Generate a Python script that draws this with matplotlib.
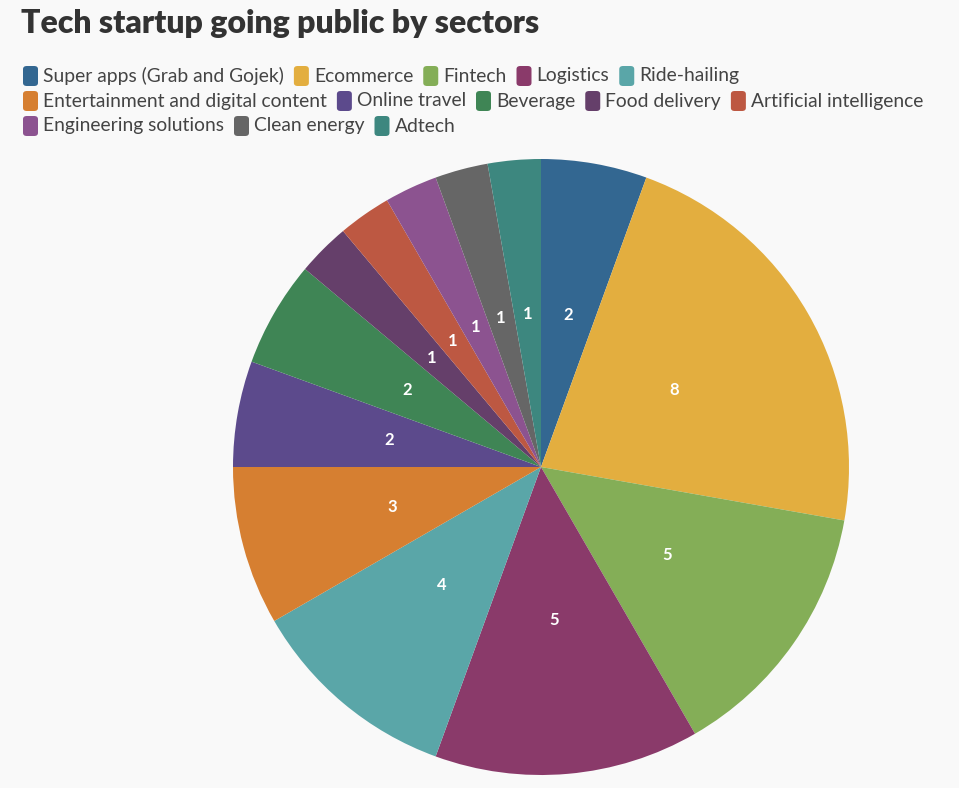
import matplotlib
matplotlib.use("Agg")
import numpy as np
import matplotlib.pyplot as plt
from matplotlib.patches import FancyBboxPatch

sectors = ["Super apps (Grab and Gojek)", "Ecommerce", "Fintech", "Logistics", "Ride-hailing",
           "Entertainment and digital content", "Online travel", "Beverage", "Food delivery",
           "Artificial intelligence", "Engineering solutions", "Clean energy", "Adtech"]
counts = [2, 8, 5, 5, 4, 3, 2, 2, 1, 1, 1, 1, 1]
colors = ["#336791", "#e3ae3f", "#84ae57", "#8a3a6a", "#5aa6a8", "#d67f31", "#5c4a8c",
          "#3f8555", "#653f6a", "#bd5842", "#8c5390", "#666666", "#3d877f"]
legend_rows = [5, 5, 3]

bg = "#f9f9f9"
W, H = 959, 788
fig = plt.figure(figsize=(W / 100, H / 100), dpi=100, facecolor=bg)

# pie
ax = fig.add_axes([233 / W, 13 / H, 616 / W, 616 / H])
ax.set_facecolor(bg)
wedges, texts = ax.pie(counts, colors=colors, startangle=90, counterclock=False,
                       radius=1, wedgeprops=dict(linewidth=0))
for w, c in zip(wedges, counts):
    ang = np.deg2rad((w.theta1 + w.theta2) / 2)
    ax.text(0.5 * np.cos(ang), 0.5 * np.sin(ang), str(c), ha="center", va="center",
            color="white", fontsize=12, fontweight="bold", family="Lato")
ax.set_xlim(-1, 1)
ax.set_ylim(-1, 1)
ax.axis("off")

fig.text(21 / W, 1 - 23 / H, "Tech startup going public by sectors", fontsize=23,
         fontweight="heavy", family="Lato", color="#333333", va="center", ha="left")

# legend, drawn by hand so it wraps like the original
fig.canvas.draw()
r = fig.canvas.get_renderer()
idx = 0
for row, n in enumerate(legend_rows):
    y = 76 + row * 25
    x = 23
    for k in range(n):
        name, col = sectors[idx], colors[idx]
        p = FancyBboxPatch((x / W, (H - y - 10) / H), 15 / W, 20 / H,
                           boxstyle="round,pad=0,rounding_size=0.004",
                           transform=fig.transFigure, facecolor=col, edgecolor="none")
        fig.patches.append(p)
        t = fig.text((x + 20) / W, (H - y) / H, name, fontsize=13.9, family="Lato",
                     color="#444444", va="center", ha="left")
        bb = t.get_window_extent(renderer=r)
        x = x + 20 + bb.width + 10
        idx += 1

fig.savefig("out.png", dpi=100, facecolor=bg)
